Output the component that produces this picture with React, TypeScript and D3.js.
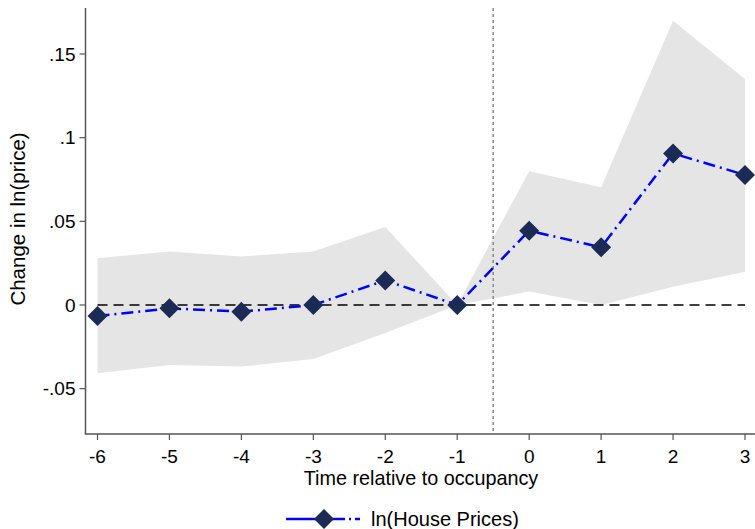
import { useRef, useEffect } from "react";
import * as d3 from "d3";

const periods = [-6, -5, -4, -3, -2, -1, 0, 1, 2, 3];
const estimates = [-0.0066, -0.002, -0.004, 0.0, 0.0147, 0.0, 0.0444, 0.0345, 0.0906, 0.0777];
const upperCI = [0.028, 0.032, 0.029, 0.032, 0.0466, 0.0, 0.08, 0.0703, 0.1698, 0.135];
const lowerCI = [-0.0408, -0.0358, -0.0368, -0.0323, -0.0167, 0.0, 0.008, 0.0, 0.0109, 0.0199];
const yTicks = [-0.05, 0, 0.05, 0.1, 0.15];
const yTickLabels = ["-.05", "0", ".05", ".1", ".15"];

const FONT = "Liberation Sans, Arial, Helvetica, sans-serif";

export default function App() {
  const svgRef = useRef<SVGSVGElement>(null);

  useEffect(() => {
    const svg = d3.select(svgRef.current);
    svg.selectAll("*").remove();

    const width = 755;
    const axisX = 85.5;
    const axisBottom = 434;
    const axisTop = 8;

    const x = d3.scaleLinear().domain([-6, 3]).range([97.5, 745]);
    const y = d3.scaleLinear().domain([0, 0.15]).range([305, 54]);

    const rows = periods.map((p, i) => ({
      p,
      est: estimates[i],
      lo: lowerCI[i],
      hi: upperCI[i],
    }));

    // confidence band
    const area = d3
      .area<any>()
      .x((d) => x(d.p))
      .y0((d) => y(d.lo))
      .y1((d) => y(d.hi));
    svg.append("path").datum(rows).attr("d", area).attr("fill", "#e5e5e5");

    // zero reference line
    svg
      .append("line")
      .attr("x1", x(-6))
      .attr("x2", x(3))
      .attr("y1", y(0))
      .attr("y2", y(0))
      .attr("stroke", "#000")
      .attr("stroke-width", 1.5)
      .attr("stroke-dasharray", "10 6");

    // occupancy line
    svg
      .append("line")
      .attr("x1", x(-0.5))
      .attr("x2", x(-0.5))
      .attr("y1", axisTop)
      .attr("y2", axisBottom)
      .attr("stroke", "#888")
      .attr("stroke-width", 1.5)
      .attr("stroke-dasharray", "3 3");

    // axes
    svg
      .append("line")
      .attr("x1", axisX)
      .attr("x2", axisX)
      .attr("y1", axisTop)
      .attr("y2", axisBottom)
      .attr("stroke", "#555")
      .attr("stroke-width", 1.5);
    svg
      .append("line")
      .attr("x1", axisX - 0.75)
      .attr("x2", width)
      .attr("y1", axisBottom)
      .attr("y2", axisBottom)
      .attr("stroke", "#555")
      .attr("stroke-width", 1.5);

    const yt = svg.append("g");
    yTicks.forEach((t, i) => {
      yt.append("line")
        .attr("x1", axisX - 6)
        .attr("x2", axisX)
        .attr("y1", y(t))
        .attr("y2", y(t))
        .attr("stroke", "#555")
        .attr("stroke-width", 1.2);
      yt.append("text")
        .attr("x", axisX - 10)
        .attr("y", y(t))
        .attr("dy", "0.35em")
        .attr("text-anchor", "end")
        .style("font-family", FONT)
        .attr("font-size", 19)
        .text(yTickLabels[i]);
    });

    const xt = svg.append("g");
    periods.forEach((p) => {
      xt.append("line")
        .attr("x1", x(p))
        .attr("x2", x(p))
        .attr("y1", axisBottom)
        .attr("y2", axisBottom + 6)
        .attr("stroke", "#555")
        .attr("stroke-width", 1.2);
      xt.append("text")
        .attr("x", x(p))
        .attr("y", 463)
        .attr("text-anchor", "middle")
        .style("font-family", FONT)
        .attr("font-size", 19)
        .text(p);
    });

    svg
      .append("text")
      .attr("x", 421)
      .attr("y", 485)
      .attr("text-anchor", "middle")
      .style("font-family", FONT)
      .attr("font-size", 19.8)
      .text("Time relative to occupancy");

    svg
      .append("text")
      .attr("transform", `translate(25, 219) rotate(-90)`)
      .attr("text-anchor", "middle")
      .style("font-family", FONT)
      .attr("font-size", 20.5)
      .text("Change in ln(price)");

    // estimates line
    const line = d3
      .line<any>()
      .x((d) => x(d.p))
      .y((d) => y(d.est));
    svg
      .append("path")
      .datum(rows)
      .attr("d", line)
      .attr("fill", "none")
      .attr("stroke", "#0000ff")
      .attr("stroke-width", 2.5)
      .attr("stroke-dasharray", "12 5 2 5");

    const diamond = d3.symbol().type(d3.symbolSquare).size(200);
    svg
      .selectAll(".pt")
      .data(rows)
      .join("path")
      .attr("class", "pt")
      .attr("d", diamond)
      .attr("transform", (d) => `translate(${x(d.p)},${y(d.est)}) rotate(45)`)
      .attr("fill", "#1c2b55");

    // legend
    const lg = svg.append("g").attr("transform", "translate(0, 519)");
    lg.append("line")
      .attr("x1", 286)
      .attr("x2", 360)
      .attr("y1", 0)
      .attr("y2", 0)
      .attr("stroke", "#0000ff")
      .attr("stroke-width", 2.5)
      .attr("stroke-dasharray", "59 4 2 4 5");
    lg.append("path")
      .attr("d", diamond)
      .attr("transform", "translate(324,0) rotate(45)")
      .attr("fill", "#1c2b55");
    lg.append("text")
      .attr("x", 371)
      .attr("y", 0)
      .attr("dy", "0.35em")
      .style("font-family", FONT)
      .attr("font-size", 20)
      .text("ln(House Prices)");
  }, []);

  return (
    <svg
      ref={svgRef}
      width={755}
      height={529}
      style={{ position: "absolute", left: 0, top: 0, background: "#fff" }}
    />
  );
}
